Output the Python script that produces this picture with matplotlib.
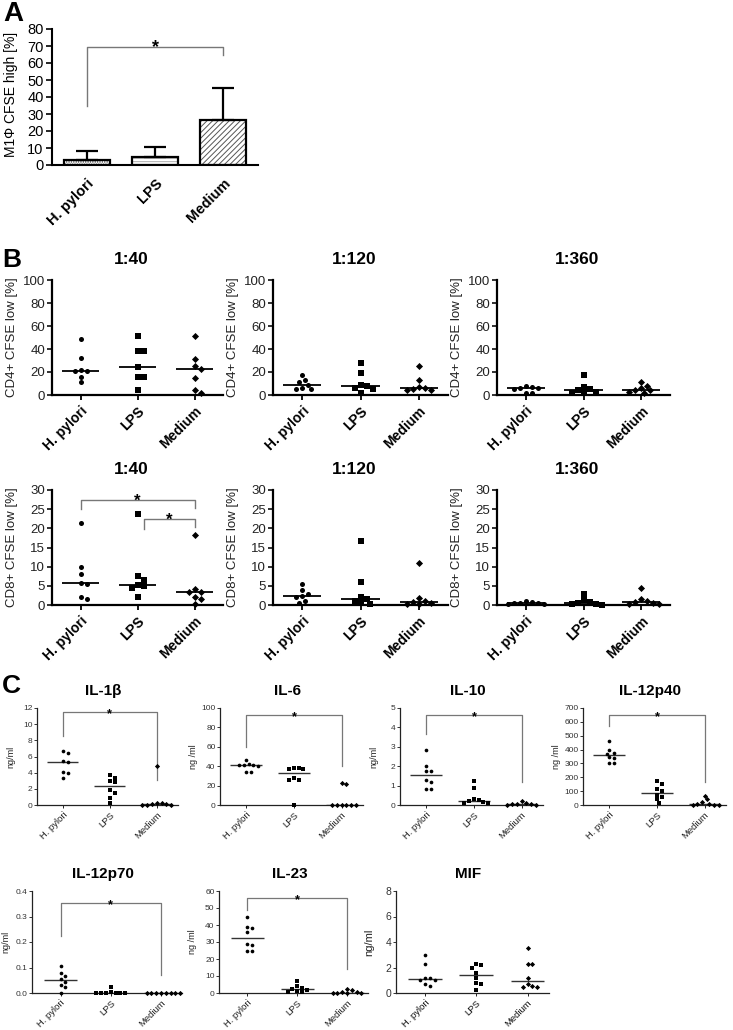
import matplotlib
matplotlib.use('Agg')
import matplotlib.pyplot as plt
import numpy as np

plt.rcParams['font.family'] = ['Liberation Sans', 'DejaVu Sans']
plt.rcParams['hatch.linewidth'] = 0.7

# ---------------- data ----------------
groups = ['H. pylori', 'LPS', 'Medium']
markers = ['o', 's', 'D']

# Panel A: M1 CFSE high [%], mean and upper SD
a_mean = [3.0, 4.5, 26.5]
a_sd = [5.0, 6.0, 19.0]

# Panel B: CD4+ CFSE low [%]
cd4_40 = [[49, 32, 22, 21, 21, 16, 11],
          [51, 38, 38, 24, 16, 16, 4],
          [51, 31, 25, 23, 15, 4, 2]]
cd4_120 = [[17, 13, 11, 9, 6, 5, 5],
           [28, 19, 9, 8, 6, 5, 2],
           [25, 13, 7, 6, 5, 4, 4]]
cd4_360 = [[8, 7, 6, 6, 5, 2, 2],
           [17, 7, 5, 4, 3, 2, 2],
           [11, 8, 6, 4, 4, 3, 2]]
# Panel B: CD8+ CFSE low [%]
cd8_40 = [[21.5, 9.8, 8.0, 5.8, 5.5, 2.0, 1.5],
          [23.8, 7.5, 6.5, 5.3, 5.0, 4.5, 2.0],
          [18.3, 4.2, 3.5, 3.5, 2.0, 1.5, 0.3]]
cd8_120 = [[5.5, 4.0, 3.0, 2.3, 2.0, 1.0, 0.5],
           [16.8, 6.0, 2.0, 1.5, 1.0, 0.5, 0.2],
           [11.0, 1.8, 1.0, 0.8, 0.5, 0.3, 0.3]]
cd8_360 = [[1.0, 0.8, 0.6, 0.5, 0.5, 0.3, 0.3],
           [3.0, 1.2, 0.8, 0.5, 0.3, 0.2, 0.1],
           [4.5, 1.5, 1.0, 0.7, 0.5, 0.3, 0.2]]

# Panel C: cytokines [ng/ml]
il1b = [[6.7, 6.4, 5.5, 5.3, 4.1, 4.0, 3.3],
        [3.7, 3.4, 3.0, 2.8, 1.8, 1.5, 0.9, 0.2],
        [4.8, 0.3, 0.2, 0.1, 0.1, 0.05, 0.05, 0.0]]
il6 = [[46, 42, 41, 41, 40, 41, 34, 34],
       [38, 38, 37, 37, 28, 26, 26, 0],
       [23, 22, 0, 0, 0, 0, 0, 0]]
il10 = [[2.85, 2.0, 1.75, 1.75, 1.3, 1.2, 0.8, 0.8],
        [1.25, 0.9, 0.3, 0.25, 0.2, 0.15, 0.1, 0.1],
        [0.2, 0.1, 0.05, 0.05, 0.05, 0.0, 0.0]]
il12p40 = [[465, 395, 375, 370, 345, 340, 305, 300],
           [175, 152, 115, 98, 75, 60, 40, 15],
           [65, 40, 20, 10, 5, 0, 0, 0]]
il12p70 = [[0.107, 0.08, 0.068, 0.055, 0.045, 0.03, 0.025, 0.0],
           [0.025, 0.005, 0, 0, 0, 0, 0, 0],
           [0, 0, 0, 0, 0, 0, 0, 0]]
il23 = [[44.5, 39, 38, 36, 29, 28, 25, 25],
        [7.0, 4.0, 3.0, 2.5, 1.8, 1.0, 0.8, 0.5],
        [2.5, 1.5, 0.5, 0.3, 0.2, 0.1, 0.0, 0.0]]
mif = [[2.95, 2.25, 1.2, 1.15, 1.05, 1.0, 0.7, 0.55],
       [2.25, 2.2, 2.0, 1.55, 1.2, 0.8, 0.7, 0.2],
       [3.55, 2.3, 2.3, 1.2, 0.7, 0.55, 0.5, 0.45]]

# ---------------- layout ----------------
W, H = 733, 1030
fig = plt.figure(figsize=(W / 100, H / 100), dpi=100)


def px_axes(x0, y0, x1, y1):
    return fig.add_axes([x0 / W, 1 - y1 / H, (x1 - x0) / W, (y1 - y0) / H])


def style(ax, lw, tick_len, tick_w, color='black'):
    for s in ['top', 'right']:
        ax.spines[s].set_visible(False)
    for s in ['left', 'bottom']:
        ax.spines[s].set_linewidth(lw)
        ax.spines[s].set_color(color)
    ax.tick_params(direction='out', length=tick_len, width=tick_w, color=color)


def swarm(ax, xc, vals, diam):
    vals = np.asarray(vals, dtype=float)
    pts = ax.transData.transform(np.column_stack([np.full(len(vals), xc), vals]))
    ypix = pts[:, 1]
    order = np.argsort(-vals, kind='stable')
    placed = []
    offs = np.zeros(len(vals))
    for j in order:
        for k in range(40):
            step = (k + 1) // 2 * (1 if k % 2 else -1)
            dx = step * diam * 0.6
            if all((dx - px) ** 2 + (ypix[j] - py) ** 2 >= (diam * 1.05) ** 2
                   for px, py in placed):
                break
        placed.append((dx, ypix[j]))
        offs[j] = dx
    unit = ax.transData.transform([(1, 0)])[0, 0] - ax.transData.transform([(0, 0)])[0, 0]
    return xc + offs / unit


def dot_panel(ax, data, ylim, yticks, xlim, diam, s, med_color, med_lw):
    ax.set_xlim(*xlim)
    ax.set_ylim(*ylim)
    ax.set_yticks(yticks)
    ax.set_xticks(range(3))
    for i, vals in enumerate(data):
        xs = swarm(ax, i, vals, diam)
        ax.scatter(xs, vals, marker=markers[i], s=s, color='black', lw=0,
                   clip_on=False, zorder=3)
        med = np.median(vals)
        ax.plot([i - 0.33, i + 0.33], [med, med], color=med_color, lw=med_lw,
                zorder=2, solid_capstyle='butt')


def bracket(ax, x0, x1, top, lend, rend, color, lw, star_size, star_dy):
    ax.plot([x0, x0, x1, x1], [lend, top, top, rend], color=color, lw=lw,
            clip_on=False, zorder=1)
    ax.annotate('*', xy=((x0 + x1) / 2, top), xytext=(0, star_dy),
                textcoords='offset points', ha='center', va='baseline',
                fontsize=star_size, fontweight='bold', annotation_clip=False)


# ---------------- panel A ----------------
ax = px_axes(52, 29, 258, 165)
style(ax, 1.5, 4, 1.2)
x = np.arange(3)
hatches = ['.......', '-----', '//////']
hcolors = ['#333333', '#aaaaaa', '#555555']
for i in range(3):
    ax.bar(x[i], a_mean[i], width=0.68, color='white', edgecolor=hcolors[i],
           hatch=hatches[i], lw=0, zorder=2)
ax.bar(x, a_mean, width=0.68, fill=False, edgecolor='black', lw=1.6, zorder=3)
ax.errorbar(x, a_mean, yerr=[np.zeros(3), a_sd], fmt='none', ecolor='black',
            elinewidth=1.6, capsize=8, capthick=1.6, zorder=2)
ax.set_xlim(-0.515, 2.515)
ax.set_ylim(0, 80)
ax.set_yticks(range(0, 81, 10))
ax.set_xticks(x)
ax.set_xticklabels(groups, rotation=45, ha='right', rotation_mode='anchor',
                   fontsize=10.5, fontweight='bold')
ax.tick_params(axis='x', length=0, pad=8)
ax.tick_params(axis='y', labelsize=10.5, pad=2)
ax.set_ylabel('M1Φ CFSE high [%]', fontsize=10)
ax.yaxis.set_label_coords(-0.165, 0.52)
bracket(ax, 0, 2, 69.5, 35, 64.5, '#777777', 1.0, 13, -4)

fig.text(3 / W, 1 - 1 / H, 'A', fontsize=20, fontweight='bold', va='top')

# ---------------- panel B ----------------
b_cols = [(52, 223), (273, 448), (497, 670)]
b_rows = [(280, 395), (490, 605)]
b_titles = ['1:40', '1:120', '1:360']
b_data = [[cd4_40, cd4_120, cd4_360], [cd8_40, cd8_120, cd8_360]]
b_ylims = [(0, 100), (0, 30)]
b_ticks = [range(0, 101, 20), range(0, 31, 5)]
b_labels = ['CD4+ CFSE low [%]', 'CD8+ CFSE low [%]']

for r, (y0, y1) in enumerate(b_rows):
    for c, (x0, x1) in enumerate(b_cols):
        ax = px_axes(x0, y0, x1, y1)
        style(ax, 1.6, 3.5, 1.3)
        dot_panel(ax, b_data[r][c], b_ylims[r], b_ticks[r], (-0.5, 2.5),
                  5.0, 13, 'black', 1.3)
        ax.set_xticklabels(groups, rotation=45, ha='right', rotation_mode='anchor',
                           fontsize=10, fontweight='bold')
        ax.tick_params(axis='x', pad=3)
        ax.tick_params(axis='y', labelsize=9.5, pad=1.5, colors='#222222')
        ax.set_ylabel(b_labels[r], fontsize=9.5, color='#222222')
        ax.yaxis.set_label_coords(-34 / (x1 - x0), 0.5)
        fig.text(((x0 + x1) / 2 - 6) / W, 1 - (y0 - 21) / H, b_titles[c],
                 fontsize=12.5, fontweight='bold', ha='center', va='center')
        if r == 1 and c == 0:
            bracket(ax, 0, 2, 27.4, 25.1, 25.3, '#777777', 1.0, 12, -4.5)
            bracket(ax, 1.12, 2, 22.5, 19.7, 20.3, '#777777', 1.0, 12, -4.5)

fig.text(2 / W, 1 - 248 / H, 'B', fontsize=19, fontweight='bold', va='top')

# ---------------- panel C ----------------
c_pos = [(37, 708, 178, 805), (220, 708, 363, 805), (400, 708, 543, 805),
         (583, 708, 726, 805), (32, 891, 182, 993), (219, 891, 368, 993),
         (396, 891, 549, 993)]
c_titles = ['IL-1β', 'IL-6', 'IL-10', 'IL-12p40', 'IL-12p70', 'IL-23', 'MIF']
c_data = [il1b, il6, il10, il12p40, il12p70, il23, mif]
c_ylims = [(0, 12), (0, 100), (0, 5), (0, 700), (0, 0.4), (0, 60), (0, 8)]
c_ticks = [np.arange(0, 13, 2), np.arange(0, 101, 20), np.arange(0, 6, 1),
           np.arange(0, 701, 100), np.arange(0, 0.41, 0.1), np.arange(0, 61, 10),
           np.arange(0, 9, 2)]
c_ylabels = ['ng/ml', 'ng /ml', 'ng/ml', 'ng /ml', 'ng/ml', 'ng /ml', 'ng/ml']
c_brackets = [(11.5, 8.5, 3.1), (92.5, 60, 40), (4.63, 3.65, 1.17),
              (647, 568, 165), (0.352, 0.222, 0.071), (55.9, 48.7, 14.2), None]

for k, (x0, y0, x1, y1) in enumerate(c_pos):
    big = c_titles[k] == 'MIF'
    ax = px_axes(x0, y0, x1, y1)
    style(ax, 0.9, 2.2, 0.7, '#222222')
    xl = (-0.55, 2.45) if k < 4 else (-0.57, 2.42)
    dot_panel(ax, c_data[k], c_ylims[k], c_ticks[k], xl, 4.0, 7, '#333333', 1.0)
    if c_titles[k] == 'IL-12p70':
        ax.set_yticklabels(['%.1f' % t for t in c_ticks[k]])
    else:
        ax.set_yticklabels(['%d' % t for t in c_ticks[k]])
    ax.set_xticklabels(groups, rotation=45, ha='right', rotation_mode='anchor',
                       fontsize=6.8, color='#111111' if big else '#222222')
    ax.tick_params(axis='x', pad=1.5)
    ax.tick_params(axis='y', labelsize=7.5 if big else 6, pad=1, colors='#333333')
    ax.set_ylabel(c_ylabels[k], fontsize=8 if big else 6.5, color='#222222')
    ax.yaxis.set_label_coords(-22 / (x1 - x0), 0.5)
    fig.text(((x0 + x1) / 2 - 4) / W, 1 - (y0 - 17) / H, c_titles[k],
             fontsize=11, fontweight='bold', ha='center', va='center')
    if c_brackets[k] is not None:
        top, le, re = c_brackets[k]
        bracket(ax, 0, 2, top, le, re, '#777777', 0.9, 9, -3.5)

fig.text(2 / W, 1 - 674 / H, 'C', fontsize=19, fontweight='bold', va='top')

fig.savefig('out.png', dpi=100, facecolor='white')
